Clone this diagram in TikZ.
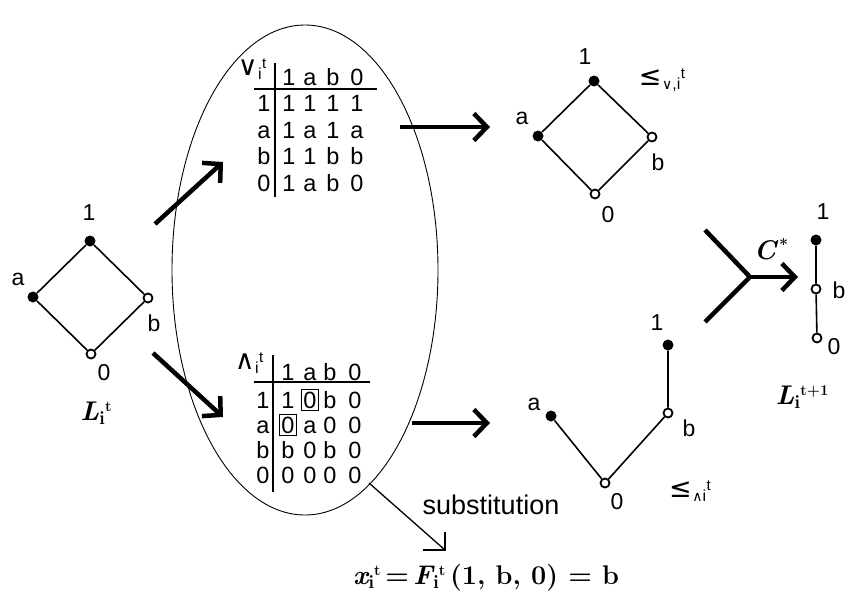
\documentclass[tikz,border=0pt]{standalone}
\usepackage{fontspec}
\newfontfamily\lsans{Liberation Sans}
\newfontfamily\dvs{DejaVu Sans}
\usetikzlibrary{arrows.meta,fit,shapes.geometric}
\newcommand\opsym[4]{{\dvs\fontsize{#4}{#4}\selectfont #1}\kern0.5pt\raisebox{-4pt}{\lsans\fontsize{16}{16}\selectfont #2}\kern0.5pt\raisebox{7pt}{\lsans\fontsize{15}{15}\selectfont #3}}
\newcommand\bsubsup[2]{\raisebox{-4pt}{\fontsize{19}{19}\selectfont\bfseries\upshape #1}\raisebox{9pt}{\fontsize{15}{15}\selectfont\bfseries\upshape #2}}
\tikzset{
  lat/.style={line width=1.6pt},
  fnode/.style={circle,fill=black,inner sep=0pt,minimum size=11pt},
  onode/.style={circle,draw,line width=1.8pt,fill=white,inner sep=0pt,minimum size=9pt},
  lab/.style={font=\lsans\fontsize{23}{26}\selectfont,inner sep=0pt},
  tab/.style={font=\lsans\fontsize{23.5}{26}\selectfont,inner sep=0pt,text height=17pt,text depth=0pt},
  sym/.style={inner sep=0pt},
  bigarrow/.style={line width=4.5pt,-{Straight Barb[length=13pt,width=27pt]}},
  thickbar/.style={line width=4.5pt},
  tabline/.style={line width=2pt},
  boxst/.style={draw,line width=1pt,inner xsep=2pt,inner ysep=2pt},
  bigserif/.style={font=\rmfamily\fontsize{27}{32}\selectfont\bfseries,inner sep=0pt}
}
\begin{document}
\begin{tikzpicture}[x=1pt,y=-1pt]
\useasboundingbox (0,0) rectangle (848,602);

% ellipse
\node[draw,ellipse,line width=0.9pt,minimum width=266pt,minimum height=490pt,inner sep=0pt] (ell) at (305,270) {};

% left lattice L_i^t
\node[fnode] (l1) at (90,241) {};
\node[fnode] (la) at (33,297) {};
\node[onode] (lb) at (148,298) {};
\node[onode] (l0) at (91,354) {};
\draw[lat] (l1) -- (la) -- (l0) -- (lb) -- (l1);
\node[lab] (l1t) at (89,213) {1};
\node[lab] (lat) at (18,279) {a};
\node[lab] (lbt) at (154,323) {b};
\node[lab] (l0t) at (104,373) {0};
\node[bigserif] (Lt) at (96,413) {\itshape L\bsubsup{i}{t}};

% diagonal arrows
\coordinate (du0) at (155,224);
\coordinate (du1) at (223,162);
\coordinate (dd0) at (153,353);
\coordinate (dd1) at (223,417);
\draw[bigarrow] (du0) -- (du1);
\draw[bigarrow] (dd0) -- (dd1);

% top table (join)
\node[sym] (vsym) at (252,69) {\opsym{∨}{i}{t}{27}};
\coordinate (vh0) at (254,89);
\coordinate (vh1) at (377,89);
\coordinate (vv0) at (275,63);
\coordinate (vv1) at (275,197);
\draw[tabline] (vh0) -- (vh1);
\draw[tabline] (vv0) -- (vv1);
\foreach \t [count=\c] in {1,a,b,0} {
  \pgfmathsetmacro\xx{{266,289,310,333,357}[\c]}
  \node[tab] (vh\c) at (\xx,77) {\t};
}
\foreach \rl/\ea/\eb/\ec/\ed [count=\r] in {1/1/1/1/1, a/1/a/1/a, b/1/1/b/b, 0/1/a/b/0} {
  \pgfmathsetmacro\yy{103+26.5*(\r-1)}
  \node[tab] (vr\r) at (264,\yy) {\rl};
  \node[tab] (v\r1) at (289,\yy) {\ea};
  \node[tab] (v\r2) at (310,\yy) {\eb};
  \node[tab] (v\r3) at (333,\yy) {\ec};
  \node[tab] (v\r4) at (357,\yy) {\ed};
}

% bottom table (meet)
\node[sym] (msym) at (249,363) {\opsym{∧}{i}{t}{27}};
\coordinate (mh0) at (254,382);
\coordinate (mh1) at (370,382);
\coordinate (mv0) at (273,355);
\coordinate (mv1) at (273,492);
\draw[tabline] (mh0) -- (mh1);
\draw[tabline] (mv0) -- (mv1);
\foreach \t [count=\c] in {1,a,b,0} {
  \pgfmathsetmacro\xx{{266,288,310,330,355}[\c]}
  \node[tab] (mh\c) at (\xx,372) {\t};
}
\foreach \rl/\ea/\eb/\ec/\ed [count=\r] in {1/1/0/b/0, a/0/a/0/0, b/b/0/b/0, 0/0/0/0/0} {
  \pgfmathsetmacro\yy{400+25*(\r-1)}
  \node[tab] (mr\r) at (263,\yy) {\rl};
  \node[tab] (m\r1) at (288,\yy) {\ea};
  \node[tab] (m\r2) at (310,\yy) {\eb};
  \node[tab] (m\r3) at (330,\yy) {\ec};
  \node[tab] (m\r4) at (355,\yy) {\ed};
}
\node[boxst,fit=(m12)] (box1) {};
\node[boxst,fit=(m21)] (box2) {};

% horizontal arrows
\coordinate (ha0) at (400,127);
\coordinate (ha1) at (490,127);
\coordinate (hb0) at (412,423);
\coordinate (hb1) at (490,423);
\draw[bigarrow] (ha0) -- (ha1);
\draw[bigarrow] (hb0) -- (hb1);

% top right lattice (join order)
\node[fnode] (j1) at (594,81) {};
\node[fnode] (ja) at (538,136) {};
\node[onode] (jb) at (652,137) {};
\node[onode] (j0) at (595,194) {};
\draw[lat] (j1) -- (ja) -- (j0) -- (jb) -- (j1);
\node[lab] (j1t) at (585,57) {1};
\node[lab] (jat) at (522,118) {a};
\node[lab] (jbt) at (658,162) {b};
\node[lab] (j0t) at (608,215) {0};
\node[sym] (jle) at (662,80) {\opsym{≤}{{\dvs\fontsize{14}{14}\selectfont ∨},i}{t}{27}};

% bottom right lattice (meet order)
\node[fnode] (k1) at (668,345) {};
\node[fnode] (ka) at (551,416) {};
\node[onode] (kb) at (668,413) {};
\node[onode] (k0) at (605,483) {};
\draw[lat] (k1) -- (kb) -- (k0) -- (ka);
\node[lab] (k1t) at (657,323) {1};
\node[lab] (kat) at (534,404) {a};
\node[lab] (kbt) at (689,428) {b};
\node[lab] (k0t) at (617,502) {0};
\node[sym] (kle) at (690,491) {\opsym{≤}{{\dvs\fontsize{14}{14}\selectfont ∧}i}{t}{27}};

% merge Y and C*
\coordinate (yu) at (705,230);
\coordinate (yl) at (705,322);
\coordinate (yj) at (750,277);
\coordinate (ye) at (798,277);
\draw[thickbar,line join=miter] (yu) -- (yj) -- (yl);
\draw[bigarrow] (yj) -- (ye);
\node[bigserif] (cstar) at (771,249) {\itshape C\kern3pt\raisebox{9pt}{\fontsize{16}{16}\selectfont\upshape *}};

% result chain
\node[fnode] (r1) at (816,240) {};
\node[onode] (rb) at (816,289) {};
\node[onode] (r0) at (817,338) {};
\draw[lat] (r1) -- (rb) -- (r0);
\node[lab] (r1t) at (823,212) {1};
\node[lab] (rbt) at (839,290) {b};
\node[lab] (r0t) at (834,347) {0};
\node[bigserif] (Lt1) at (802,397) {\itshape L\bsubsup{i}{t+1}};

% substitution
\coordinate (s0) at (369,483);
\coordinate (s1) at (445,550);
\coordinate (sh1) at (423,550);
\coordinate (sh2) at (445,532);
\draw[line width=1.3pt] (s0) -- (s1);
\draw[line width=1.3pt] (sh1) -- (s1) -- (sh2);
\node[font=\lsans\fontsize{27}{30}\selectfont,inner sep=0pt] (subst) at (491,505) {substitution};

\node[bigserif] (formula) at (486,578) {{\itshape x}\bsubsup{i}{t}\,=\,{\itshape F}\bsubsup{i}{t}\,(1,\ b,\ 0)\ =\ b};
\end{tikzpicture}
\end{document}
